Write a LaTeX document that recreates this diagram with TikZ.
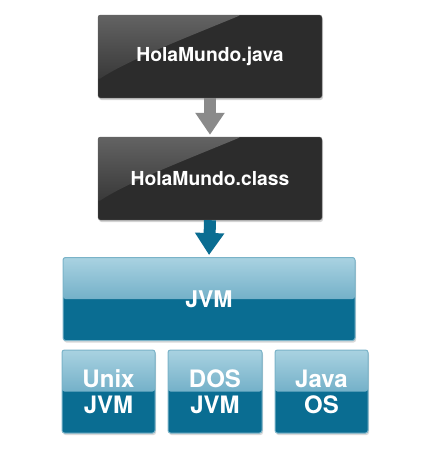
\documentclass[tikz,border=0pt]{standalone}
\usepackage{fontspec}
\setsansfont{TeX Gyre Heros}
\usepackage{tikz}
\usetikzlibrary{positioning,calc,shadows,arrows.meta}

\definecolor{boxdark}{HTML}{2C2C2C}
\definecolor{boxgloss}{HTML}{636363}
\definecolor{jvmdark}{HTML}{0A6D92}
\definecolor{jvmtop}{HTML}{A9D2E1}
\definecolor{jvmmid}{HTML}{3F8FB0}
\definecolor{jvmline}{HTML}{7AB3C8}
\definecolor{arrowgray}{HTML}{8A8A8A}

\tikzset{
    srcbox/.style={draw=black!60, fill=boxdark, rounded corners=2.5pt,
        minimum width=224pt, minimum height=83pt, text=white,
        font=\sffamily\bfseries\fontsize{19.3}{23}\selectfont,
        drop shadow={shadow xshift=1pt, shadow yshift=-2pt, opacity=0.35},
        path picture={
            \shade[top color=boxgloss, bottom color=boxdark]
                (path picture bounding box.north west)
                -- ([xshift=143pt]path picture bounding box.north west)
                .. controls ([xshift=90pt,yshift=-22pt]path picture bounding box.north west)
                and ([xshift=30pt,yshift=-45pt]path picture bounding box.north west)
                .. ([yshift=-65pt]path picture bounding box.north west) -- cycle;
        }},
    vmbox/.style={draw=jvmline, line width=1pt, fill=jvmdark, rounded corners=2.5pt,
        minimum height=83pt, text=white, align=center,
        font=\sffamily\bfseries\fontsize{24}{26}\selectfont,
        drop shadow={shadow xshift=1pt, shadow yshift=-2pt, opacity=0.3},
        path picture={
            \shade[top color=jvmtop, bottom color=jvmmid]
                (path picture bounding box.north west) rectangle (path picture bounding box.east);
        }},
    blockarrow/.style={line width=12pt, -{Triangle[width=28pt,length=22pt]}, shorten >=2pt}
}

\begin{document}
\begin{tikzpicture}[x=1pt, y=-1pt]
    \useasboundingbox (0,0) rectangle (444,456);
    % source and bytecode
    \node [srcbox] (java) at (210, 56.5) {HolaMundo.java};
    \node [srcbox] (class) at (210, 178.5) {HolaMundo.class};
    % virtual machine
    \node [vmbox, minimum width=292pt, font=\sffamily\bfseries\fontsize{23}{26}\selectfont] (jvm) at (209, 299) {JVM};
    \node [vmbox, minimum width=93pt] (unix) at (108.5, 391.5) {Unix\\JVM};
    \node [vmbox, minimum width=94pt] (dos) at (215, 391.5) {DOS\\JVM};
    \node [vmbox, minimum width=93pt] (javaos) at (321.5, 391.5) {Java\\OS};
    % arrows
    \draw [blockarrow, arrowgray] (java.south) -- (class.north);
    \draw [blockarrow, jvmdark] (class.south) -- (jvm.north);
\end{tikzpicture}
\end{document}
